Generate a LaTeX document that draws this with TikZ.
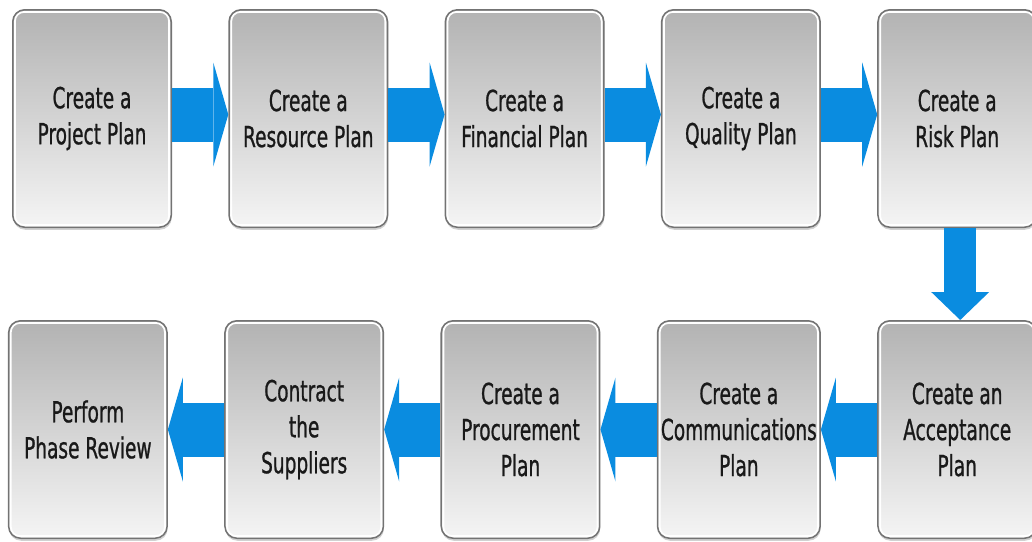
\documentclass[tikz,border=0pt]{standalone}
\usepackage{fontspec}
\usepackage{tikz}
\usetikzlibrary{arrows.meta,positioning,shadows}
\newfontfamily\boxfont{DejaVu Sans}[FakeStretch=0.64,FakeBold=0.8]
\definecolor{flowblue}{RGB}{10,140,224}
\tikzset{
    node distance = 92pt and 56.3pt,
    plan/.style = {rectangle, rounded corners=12pt, draw=black!55, line width=1.5pt,
        minimum width=158.5pt, minimum height=217.5pt, align=center,
        top color=black!30, middle color=black!19, bottom color=black!4,
        font=\boxfont\fontsize{29}{36}\selectfont, text=black!90,
        drop shadow={shadow xshift=0.5pt, shadow yshift=-2.5pt, opacity=0.3, fill=black!60},
        path picture={\draw[white, line width=1.8pt, rounded corners=9pt]
            ([shift={(2.2pt,-2.2pt)}]path picture bounding box.north west) rectangle
            ([shift={(-2.2pt,2.2pt)}]path picture bounding box.south east);}},
    flow/.style = {draw=flowblue, line width=54pt,
        -{Triangle[length=15pt, width=104pt, line width=0pt]}},
    down/.style = {draw=flowblue, line width=32pt,
        -{Triangle[length=28pt, width=58pt, line width=0pt]}}
}
\begin{document}
\begin{tikzpicture}
    \useasboundingbox (0,0) rectangle (1032pt,-541pt);
    % top row, left to right
    \node[plan] (1) at (92pt,-118.5pt) {Create a\\Project Plan};
    \node[plan] (2) [right = of 1] {Create a\\Resource Plan};
    \node[plan] (3) [right = of 2] {Create a\\Financial Plan};
    \node[plan] (4) [right = of 3] {Create a\\Quality Plan};
    \node[plan] (5) [right = of 4] {Create a\\Risk Plan};
    % bottom row, right to left
    \node[plan] (6) [below = of 5] {Create an\\Acceptance\\Plan};
    \node[plan] (7) [left = of 6] {Create a\\Communications\\Plan};
    \node[plan] (8) [left = of 7] {Create a\\Procurement\\Plan};
    \node[plan] (9) [left = of 8] {Contract\\the\\Suppliers};
    \node[plan] (10) [left = of 9] {Perform\\Phase Review};

    \path ([yshift=4pt]1.east) edge[flow] ([yshift=4pt]2.west);
    \path ([yshift=4pt]2.east) edge[flow] ([yshift=4pt]3.west);
    \path ([yshift=4pt]3.east) edge[flow] ([yshift=4pt]4.west);
    \path ([yshift=4pt]4.east) edge[flow] ([yshift=4pt]5.west);
    \path ([xshift=3pt]5.south) edge[down] ([xshift=3pt]6.north);
    \path (6.west) edge[flow] (7.east);
    \path (7.west) edge[flow] (8.east);
    \path (8.west) edge[flow] (9.east);
    \path (9.west) edge[flow] (10.east);

\end{tikzpicture}
\end{document}
